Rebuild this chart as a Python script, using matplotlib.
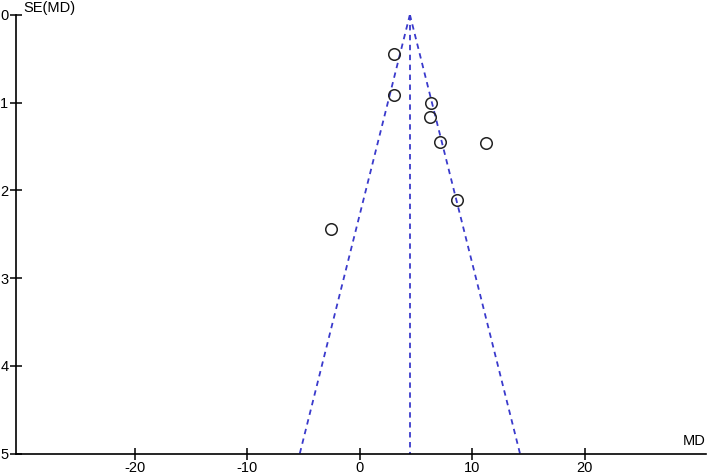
import numpy as np
import matplotlib.pyplot as plt

plt.rcParams['font.family'] = ['Liberation Sans', 'DejaVu Sans']
plt.rcParams['axes.unicode_minus'] = False

# study estimates
md = [3.05, 3.05, 6.3, 6.2, 7.1, 11.2, 8.6, -2.6]
se = [0.45, 0.92, 1.01, 1.16, 1.45, 1.46, 2.11, 2.44]
pooled = 4.45
se_max = 5
xticks = [-20, -10, 0, 10, 20]
yticks = [0, 1, 2, 3, 4, 5]

fig = plt.figure(figsize=(7.08, 4.75), dpi=100)
ax = fig.add_axes([16 / 708, 21.3 / 475, 690 / 708, (453.7 - 14.7) / 475])

# funnel limits (95% pseudo-CI)
s = np.array([0, se_max])
blue = '#3a3acc'
ax.plot(pooled - 1.96 * s, s, ls=(0, (3, 2.5)), color=blue, lw=1.3)
ax.plot(pooled + 1.96 * s, s, ls=(0, (3, 2.5)), color=blue, lw=1.3)
ax.plot([pooled, pooled], s, ls=(0, (3, 2.5)), color=blue, lw=1.3)

ax.plot(md, se, 'o', mfc='none', mec='#222222', ms=8.3, mew=1.1)

ax.set_xlim(-30.6, 30.8)
ax.set_ylim(se_max, 0)
ax.set_xticks(xticks)
ax.set_yticks(yticks)
ax.spines['top'].set_visible(False)
ax.spines['right'].set_visible(False)
for sp in ['left', 'bottom']:
    ax.spines[sp].set_linewidth(1.2)
ax.tick_params(direction='inout', length=9, width=1.1, labelsize=10.5, pad=1)

ax.text(0.011, 1.0, 'SE(MD)', transform=ax.transAxes, fontsize=10.5, va='bottom', ha='left')
ax.text(1.0, 0.012, 'MD', transform=ax.transAxes, fontsize=10.5, va='bottom', ha='right')

fig.savefig('out.png', dpi=100)
